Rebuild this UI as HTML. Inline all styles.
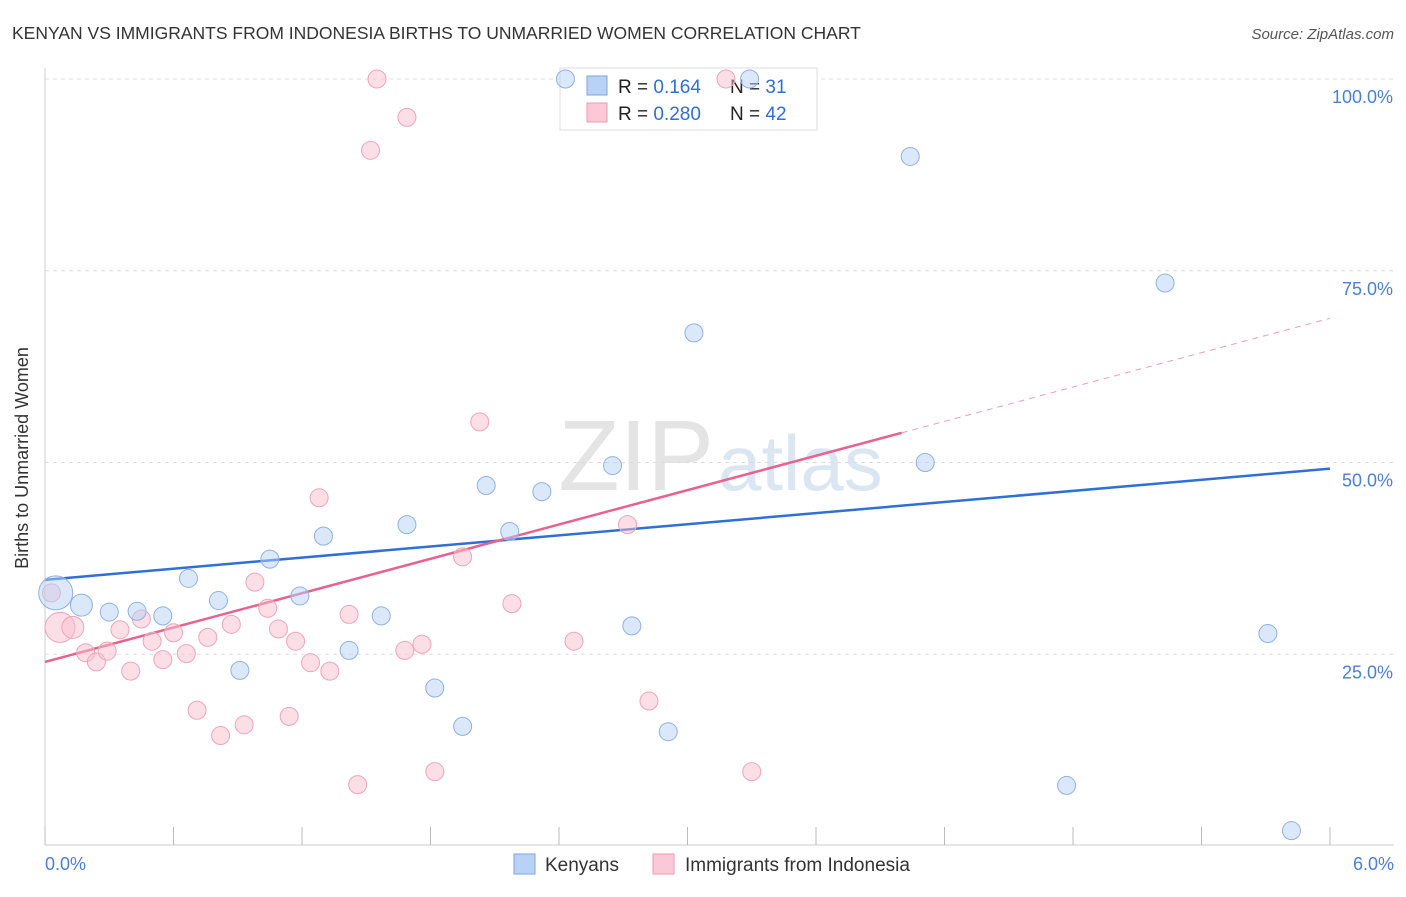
<!DOCTYPE html>
<html><head><meta charset="utf-8"><style>
body{margin:0;background:#fff;font-family:"Liberation Sans",sans-serif}
svg text{font-family:"Liberation Sans",sans-serif}
</style></head><body>
<svg id="chart" width="1406" height="892" xmlns="http://www.w3.org/2000/svg">
<text x="12" y="39" font-size="17.5" fill="#333">KENYAN VS IMMIGRANTS FROM INDONESIA BIRTHS TO UNMARRIED WOMEN CORRELATION CHART</text>
<text x="1394" y="39" font-size="15" fill="#555" text-anchor="end" font-style="italic">Source: ZipAtlas.com</text>
<text x="28" y="458" font-size="18" fill="#333" text-anchor="middle" transform="rotate(-90 28 458)">Births to Unmarried Women</text>
<text x="714" y="490" font-size="100" fill="#e4e4e4" text-anchor="end" font-family="Liberation Serif">ZIP</text>
<text x="718" y="490" font-size="78" fill="#dbe6f3">atlas</text>
<g id="grid"></g><g id="axes"></g><g id="lines"></g>
<g>
<rect x="560" y="68" width="257" height="62" fill="#fff" stroke="#ddd"/>
<rect x="587" y="76" width="20" height="19" fill="#b8d2f5" stroke="#7ea6dd"/>
<rect x="587" y="103" width="20" height="19" fill="#fac8d6" stroke="#ee9ab3"/>
<text x="618" y="93" font-size="19" fill="#222">R = <tspan fill="#2f6fd6"> 0.164</tspan></text>
<text x="730" y="93" font-size="19" fill="#222">N = <tspan fill="#2f6fd6"> 31</tspan></text>
<text x="618" y="120" font-size="19" fill="#222">R = <tspan fill="#2f6fd6">0.280</tspan></text>
<text x="730" y="120" font-size="19" fill="#222">N = <tspan fill="#2f6fd6">42</tspan></text>
</g>
<g id="pts"></g>
<g>
<rect x="514" y="854" width="21" height="20" fill="#b8d2f5" stroke="#7ea6dd"/>
<text x="545" y="871" font-size="19" fill="#333">Kenyans</text>
<rect x="653" y="854" width="21" height="20" fill="#fac8d6" stroke="#ee9ab3"/>
<text x="685" y="871" font-size="19" fill="#333">Immigrants from Indonesia</text>
</g>
<text x="45" y="870" font-size="18" fill="#4a7fd4">0.0%</text>
<text x="1394" y="870" font-size="18" fill="#4a7fd4" text-anchor="end">6.0%</text>
</svg>
<script>
const yTicks=[100,75,50,25];
const yTickLabels=["100.0%","75.0%","50.0%","25.0%"];
const xTicks=[0,0.6,1.2,1.8,2.4,3.0,3.6,4.2,4.8,5.4,6.0];
const kenX=[0.05,0.17,0.30,0.43,0.55,0.67,0.81,0.91,1.05,1.19,1.30,1.42,1.57,1.69,1.82,1.95,2.06,2.17,2.32,2.43,2.65,2.74,2.91,3.03,3.29,4.04,4.11,5.23,5.71,4.77,5.82];
const kenY=[33,31.4,30.5,30.6,30,34.9,32,22.9,37.4,32.6,40.4,25.5,30,41.9,20.6,15.6,47,41,46.2,100,49.6,28.7,14.9,66.9,100,89.9,50,73.4,27.7,7.9,2];
const kenS=[17,11,9,9,9,9,9,9,9,9,9,9,9,9,9,9,9,9,9,9,9,9,9,9,9,9,9,9,9,9,9];
const indX=[0.07,0.13,0.19,0.24,0.29,0.35,0.40,0.45,0.50,0.55,0.60,0.66,0.71,0.76,0.82,0.87,0.93,0.98,1.04,1.09,1.14,1.17,1.24,1.28,1.33,1.42,1.46,1.52,1.55,1.68,1.69,1.76,1.82,1.95,2.03,2.18,2.47,2.72,2.82,3.30,3.18,0.03];
const indY=[28.5,28.5,25.2,24,25.4,28.2,22.8,29.6,26.7,24.3,27.8,25.1,17.7,27.2,14.4,28.9,15.8,34.4,31,28.3,16.9,26.7,23.9,45.4,22.8,30.2,8,90.7,100,25.5,95,26.3,9.7,37.7,55.3,31.6,26.7,41.9,18.9,9.7,100,33];
const indS=[15,11,9,9,9,9,9,9,9,9,9,9,9,9,9,9,9,9,9,9,9,9,9,9,9,9,9,9,9,9,9,9,9,9,9,9,9,9,9,9,9,9];
const blueLine=[34.7,49.2];
const pinkLine=[24.0,68.8];
const pinkSolidEnd=4.0;
const X=v=>45+v/6*1285, Y=v=>846-v/100*767;
const NS="http://www.w3.org/2000/svg";
function mk(p,t,a){const e=document.createElementNS(NS,t);for(const k in a)e.setAttribute(k,a[k]);document.getElementById(p).appendChild(e);return e;}
yTicks.forEach((t,i)=>{
 const g=mk('grid','line',{x1:45,x2:1394,y1:Y(t),y2:Y(t),stroke:'#ddd','stroke-dasharray':'4,4'});
 
 
 const l=mk('grid','text',{x:1393,y:Y(t)+24,'font-size':18,fill:'#4a7fd4','text-anchor':'end'});
 l.textContent=yTickLabels[i];
 
 
});
const ax=mk('axes','line',{x1:45,x2:1394,y1:845,y2:845,stroke:'#ccc'});


const ay=mk('axes','line',{x1:45,x2:45,y1:68,y2:845,stroke:'#ccc'});


xTicks.forEach(t=>{
 const e=mk('axes','line',{x1:X(t),x2:X(t),y1:827,y2:845,stroke:'#bbb'});
 
 
});
const ly=x=>blueLine[0]+(blueLine[1]-blueLine[0])*x/6;
const lp=x=>pinkLine[0]+(pinkLine[1]-pinkLine[0])*x/6;
let e=mk('lines','line',{x1:X(0),y1:Y(ly(0)),x2:X(6),y2:Y(ly(6)),stroke:'#2f6fd6','stroke-width':2.5});


e=mk('lines','line',{x1:X(0),y1:Y(lp(0)),x2:X(pinkSolidEnd),y2:Y(lp(pinkSolidEnd)),stroke:'#e8628e','stroke-width':2.5});


e=mk('lines','line',{x1:X(pinkSolidEnd),y1:Y(lp(pinkSolidEnd)),x2:X(6),y2:Y(lp(6)),stroke:'#e8a0b8','stroke-width':1,'stroke-dasharray':'6,5'});


indX.forEach((x,i)=>{
 const c=mk('pts','circle',{cx:X(x),cy:Y(indY[i]),r:indS[i],fill:'rgba(249,190,208,0.5)',stroke:'#eea4bb','stroke-width':1});
 
 
});
kenX.forEach((x,i)=>{
 const c=mk('pts','circle',{cx:X(x),cy:Y(kenY[i]),r:kenS[i],fill:'rgba(184,210,245,0.5)',stroke:'#8fb2e3','stroke-width':1});
 
 
});
</script>
</body></html>
